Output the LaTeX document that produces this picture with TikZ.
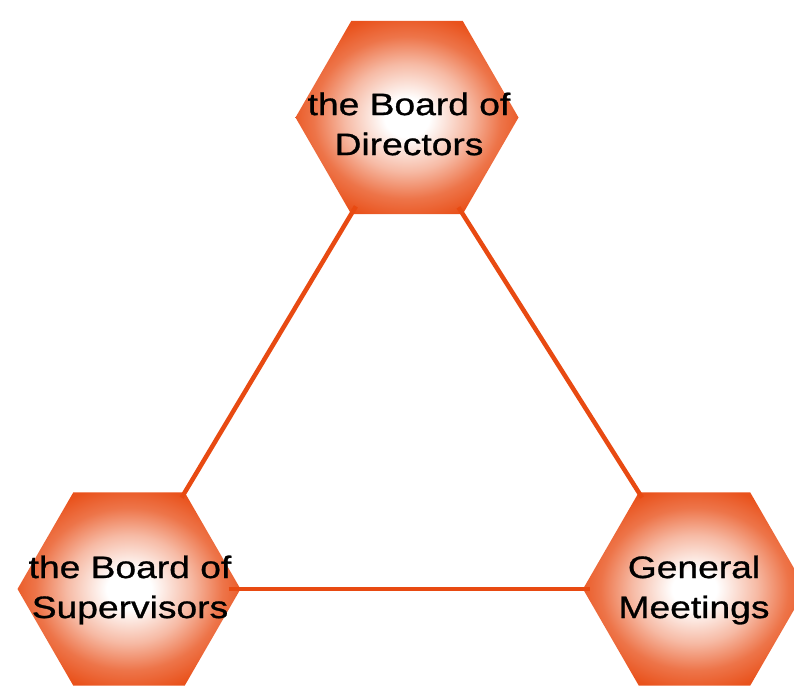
\documentclass[tikz,border=0pt]{standalone}
\usepackage{fontspec}
\newfontfamily\labfont[FakeStretch=1.2,FakeBold=0.9]{Liberation Sans}
\usetikzlibrary{shapes.geometric}
\definecolor{hexorange}{RGB}{233,82,28}
\definecolor{linkorange}{RGB}{232,74,18}
\pgfdeclareradialshading{hexshade}{\pgfpoint{0bp}{0bp}}{%
  color(0bp)=(white); color(5bp)=(white); color(14bp)=(hexorange!40!white);
  color(21bp)=(hexorange!80!white); color(27bp)=(hexorange); color(50bp)=(hexorange)}
\tikzset{
  hexa/.style={regular polygon, regular polygon sides=6, minimum size=223pt,
    inner sep=0pt, outer sep=0pt, shading=hexshade},
  lab/.style={font=\labfont\fontsize{31pt}{40pt}\selectfont, align=center,
    inner sep=0pt, text=black},
  link/.style={draw=linkorange, line width=4.5pt}
}
\begin{document}
\begin{tikzpicture}[x=1pt,y=-1pt]
\useasboundingbox (0,0) rectangle (794,686);
\node[hexa] (bd) at (407,117.5) {};
\node[hexa] (bs) at (129,589) {};
\node[hexa] (gm) at (694.5,589) {};
\draw[link, shorten <=-9pt, shorten >=-6pt] (bd.240) -- (bs.60);
\draw[link, shorten <=-8pt, shorten >=-6pt] (bd.300) -- (gm.120);
\draw[link, shorten <=-12pt, shorten >=-7pt] (bs.0) -- (gm.180);
\node[lab] (tbd) at (409,124) {the Board of\\Directors};
\node[lab] (tbs) at (130,590) {the Board of\\Supervisors};
\node[lab] (tgm) at (694,590) {General\\Meetings};
\end{tikzpicture}
\end{document}
